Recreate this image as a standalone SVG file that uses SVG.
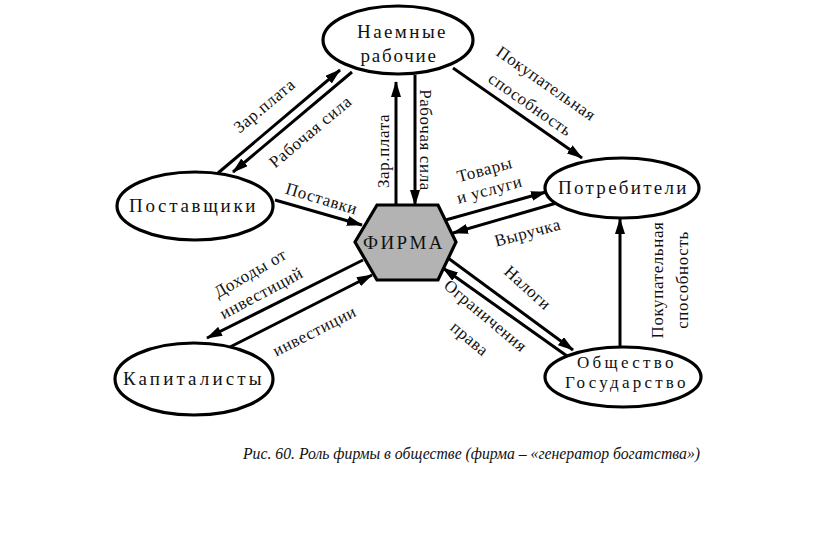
<svg xmlns="http://www.w3.org/2000/svg" width="816" height="536" viewBox="0 0 816 536">
<defs>
<marker id="ah" viewBox="0 0 16 10" refX="15" refY="5" markerWidth="16" markerHeight="10" markerUnits="userSpaceOnUse" orient="auto">
<path d="M0,0 L16,5 L0,10 Z" fill="#000"/>
</marker>
<style>
.n{fill:#fff;stroke:#000;stroke-width:3.2}
.t{font-size:19px;fill:#111;text-anchor:middle;letter-spacing:1.5px}
.l{font-size:17px;fill:#111;text-anchor:middle;letter-spacing:0.6px}
.c{stroke:#000;stroke-width:3;fill:none;marker-end:url(#ah)}
.cap{font-size:17px;font-style:italic;fill:#111}
</style>
</defs>
<rect width="816" height="536" fill="#fff"/>
<g id="connectors">
<line class="c" x1="218" y1="173" x2="340" y2="70"/>
<line class="c" x1="352" y1="72" x2="233" y2="172"/>
<line class="c" x1="275" y1="200" x2="362" y2="225"/>
<line class="c" x1="396" y1="205" x2="396" y2="82"/>
<line class="c" x1="415" y1="75" x2="415" y2="205"/>
<line class="c" x1="453" y1="68" x2="582" y2="158"/>
<line class="c" x1="442" y1="221" x2="546" y2="192"/>
<line class="c" x1="560" y1="202" x2="453" y2="233"/>
<line class="c" x1="363" y1="260" x2="207" y2="338"/>
<line class="c" x1="230" y1="347" x2="372" y2="275"/>
<line class="c" x1="448" y1="258" x2="573" y2="350"/>
<line class="c" x1="567" y1="356" x2="443" y2="268"/>
<line class="c" x1="620" y1="347" x2="620" y2="219"/>
</g>
<g font-family="Liberation Serif, Times New Roman, serif">
<g id="labels">
<text class="l" transform="translate(268,110) rotate(-40)">Зар.плата</text>
<text class="l" transform="translate(314,136) rotate(-40)">Рабочая сила</text>
<text class="l" transform="translate(320,204) rotate(17)">Поставки</text>
<text class="l" transform="translate(389,151) rotate(-90)">Зар.плата</text>
<text class="l" transform="translate(420,140) rotate(90)">Рабочая сила</text>
<text class="l" transform="translate(543,88) rotate(35)">Покупательная</text>
<text class="l" transform="translate(527,109) rotate(35)">способность</text>
<text class="l" transform="translate(486,175) rotate(-15)">Товары</text>
<text class="l" transform="translate(491,195) rotate(-15)">и услуги</text>
<text class="l" transform="translate(529,238) rotate(-15)">Выручка</text>
<text class="l" transform="translate(253,278) rotate(-30)">Доходы от</text>
<text class="l" transform="translate(264,298) rotate(-28)">инвестиций</text>
<text class="l" transform="translate(317,336) rotate(-27)">инвестиции</text>
<text class="l" transform="translate(524,292) rotate(42)">Налоги</text>
<text class="l" transform="translate(482,320) rotate(40)">Ограничения</text>
<text class="l" transform="translate(466,343) rotate(40)">права</text>
<text class="l" transform="translate(663,280) rotate(-90)">Покупательная</text>
<text class="l" transform="translate(688,280) rotate(-90)">способность</text>
</g>
<g id="workers">
<ellipse class="n" cx="398" cy="40" rx="75" ry="34"/>
<text class="t" x="402" y="38" textLength="90">Наемные</text>
<text class="t" x="399" y="62" textLength="77">рабочие</text>
</g>
<g id="suppliers">
<ellipse class="n" cx="195" cy="206" rx="78" ry="34"/>
<text class="t" x="193" y="212" textLength="128">Поставщики</text>
</g>
<g id="consumers">
<ellipse class="n" cx="622" cy="188" rx="77" ry="30"/>
<text class="t" x="623" y="194" textLength="130">Потребители</text>
</g>
<g id="capitalists">
<ellipse class="n" cx="194" cy="379" rx="79" ry="36"/>
<text class="t" x="193" y="385" textLength="140">Капиталисты</text>
</g>
<g id="society">
<ellipse class="n" cx="623" cy="377" rx="78" ry="30"/>
<text class="t" x="626" y="368" style="font-size:17px" textLength="98">Общество</text>
<text class="t" x="626" y="388" style="font-size:17px" textLength="122">Государство</text>
</g>
<g id="firm">
<polygon points="355,242 377,205 438,205 456,242 438,280 377,280" fill="#b3b3b3" stroke="#000" stroke-width="3.2"/>
<text class="t" x="403" y="249" style="letter-spacing:0.5px" textLength="80">ФИРМА</text>
</g>
<text class="cap" x="243" y="459" textLength="457" lengthAdjust="spacingAndGlyphs">Рис. 60. Роль фирмы в обществе (фирма – «генератор богатства»)</text>
</g>
</svg>
